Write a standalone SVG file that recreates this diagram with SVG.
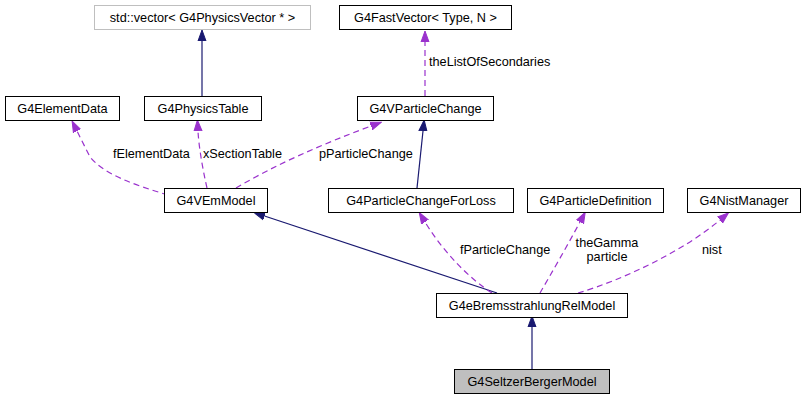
<svg xmlns="http://www.w3.org/2000/svg" width="805" height="400" viewBox="0 0 805 400">
<defs>
<style>
.box{fill:#ffffff;stroke:#000000;stroke-width:1}
.gbox{fill:#ffffff;stroke:#bfbfbf;stroke-width:1}
.cur{fill:#bfbfbf;stroke:#000000;stroke-width:1}
.t{font-family:"Liberation Sans",Arial,sans-serif;font-size:12.7px;fill:#000000;text-anchor:middle}
.lb{font-family:"Liberation Sans",Arial,sans-serif;font-size:12.7px;fill:#000000}
.inh{fill:none;stroke:#191970;stroke-width:1.2}
.use{fill:none;stroke:#9a32cd;stroke-width:1.2;stroke-dasharray:6,4}
</style>
<marker id="aInh" markerUnits="userSpaceOnUse" markerWidth="12" markerHeight="10" refX="0" refY="4" orient="auto" viewBox="0 0 12 8">
<path d="M0,0 L11,4 L0,8 z" fill="#191970" stroke="#191970"/>
</marker>
<marker id="aUse" markerUnits="userSpaceOnUse" markerWidth="12" markerHeight="10" refX="0" refY="4" orient="auto" viewBox="0 0 12 8">
<path d="M0,0 L11,4 L0,8 z" fill="#9a32cd" stroke="#9a32cd"/>
</marker>
</defs>
<rect width="805" height="400" fill="#ffffff"/>
<g id="connectors">
<path class="inh" d="M202,96 L202,41" marker-end="url(#aInh)"/>
<path class="use" d="M425,96 L425,42" marker-end="url(#aUse)"/>
<path class="inh" d="M417,188 L423,131" marker-end="url(#aInh)"/>
<path class="inh" d="M497,293 L264.5,216" marker-end="url(#aInh)"/>
<path class="use" d="M492,293 C470,279 444,253 425,222" marker-end="url(#aUse)"/>
<path class="use" d="M540,293 C551,274 566,248 580,222" marker-end="url(#aUse)"/>
<path class="use" d="M578,293 C622,280 682,252 720,220" marker-end="url(#aUse)"/>
<path class="inh" d="M532,369 L532,327" marker-end="url(#aInh)"/>
<path class="use" d="M168,195 C135,185 105,175 90,157 L77,131" marker-end="url(#aUse)"/>
<path class="use" d="M207,188 C204,175 199,150 198,131" marker-end="url(#aUse)"/>
<path class="use" d="M236,188 C275,165 320,145 371,126" marker-end="url(#aUse)"/>
<text class="lb" x="429" y="66">theListOfSecondaries</text>
<text class="lb" x="113" y="158">fElementData</text>
<text class="lb" x="203" y="158">xSectionTable</text>
<text class="lb" x="319" y="158">pParticleChange</text>
<text class="lb" x="460" y="254">fParticleChange</text>
<text class="t" x="607" y="247">theGamma</text>
<text class="t" x="607" y="261">particle</text>
<text class="lb" x="702" y="254">nist</text>
</g>
<g id="n_vector"><rect class="gbox" x="94.5" y="5.5" width="216" height="24"/><text class="t" x="202.5" y="22">std::vector&lt; G4PhysicsVector * &gt;</text></g>
<g id="n_fastvector"><rect class="box" x="339.5" y="5.5" width="172" height="24"/><text class="t" x="425.5" y="22">G4FastVector&lt; Type, N &gt;</text></g>
<g id="n_elementdata"><rect class="box" x="5.5" y="96.5" width="114" height="24"/><text class="t" x="62.5" y="113">G4ElementData</text></g>
<g id="n_physicstable"><rect class="box" x="144.5" y="96.5" width="117" height="24"/><text class="t" x="203" y="113">G4PhysicsTable</text></g>
<g id="n_vparticlechange"><rect class="box" x="357.5" y="96.5" width="136" height="24"/><text class="t" x="425.5" y="113">G4VParticleChange</text></g>
<g id="n_vemmodel"><rect class="box" x="164.5" y="188.5" width="103" height="24"/><text class="t" x="216" y="205">G4VEmModel</text></g>
<g id="n_pcforloss"><rect class="box" x="328.5" y="188.5" width="185" height="24"/><text class="t" x="421" y="205">G4ParticleChangeForLoss</text></g>
<g id="n_particledef"><rect class="box" x="527.5" y="188.5" width="136" height="24"/><text class="t" x="595.5" y="205">G4ParticleDefinition</text></g>
<g id="n_nist"><rect class="box" x="687.5" y="188.5" width="113" height="24"/><text class="t" x="744" y="205">G4NistManager</text></g>
<g id="n_brems"><rect class="box" x="436.5" y="293.5" width="191" height="24"/><text class="t" x="532" y="310">G4eBremsstrahlungRelModel</text></g>
<g id="n_seltzer"><rect class="cur" x="454.5" y="369.5" width="155" height="24"/><text class="t" x="532" y="386">G4SeltzerBergerModel</text></g>
</svg>
